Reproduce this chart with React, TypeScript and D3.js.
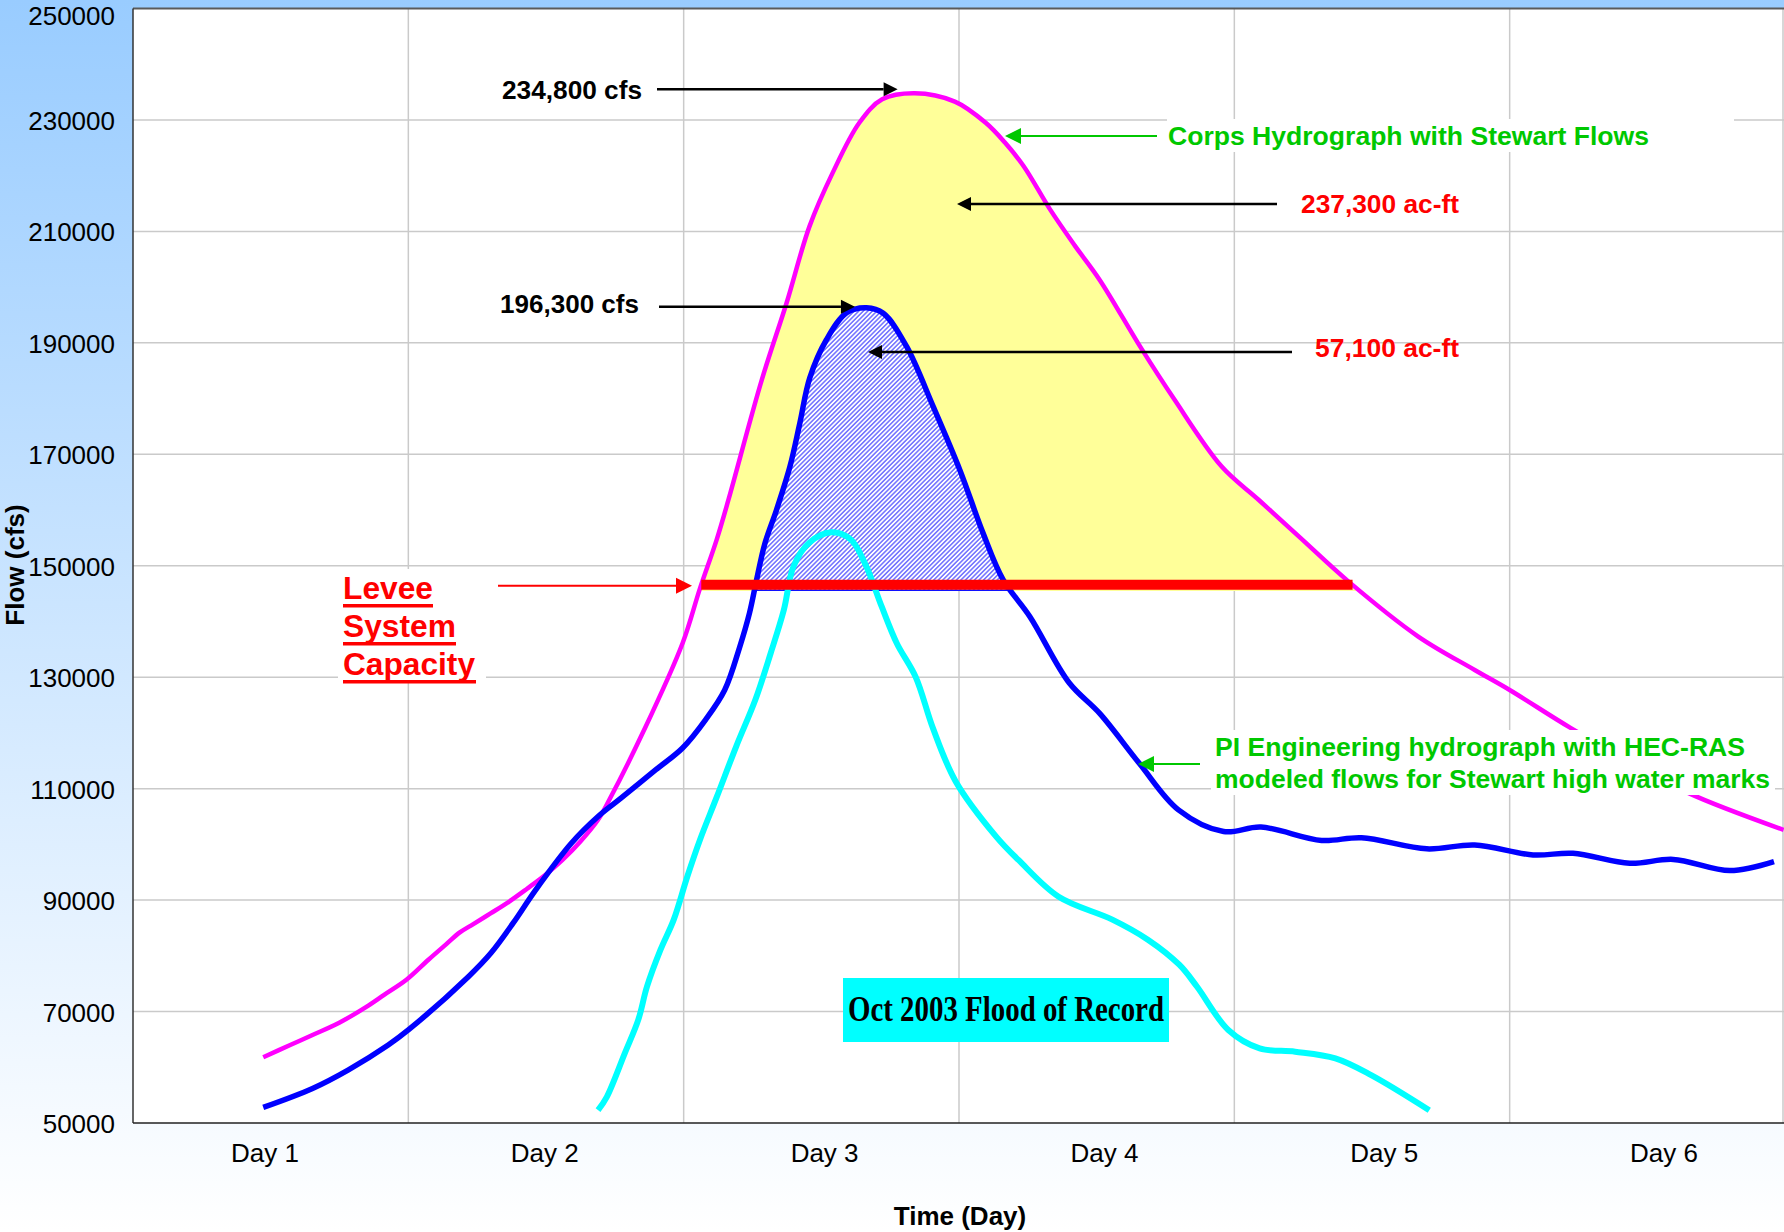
import React from 'react';
import * as d3 from 'd3';

// Axis categories and ticks
const dayLabels = ['Day 1', 'Day 2', 'Day 3', 'Day 4', 'Day 5', 'Day 6'];
const flowTicks = [50000, 70000, 90000, 110000, 130000, 150000, 170000, 190000, 210000, 230000, 250000];

// Corps hydrograph with Stewart flows (time in days from the start of Day 1, flow in cfs)
const corpsTime = [0.473, 0.571, 0.652, 0.749, 0.846, 0.912, 0.993, 1.073, 1.138, 1.187, 1.236, 1.3, 1.365, 1.43, 1.495, 1.56, 1.625, 1.689, 1.73, 1.857, 1.996, 2.059, 2.12, 2.163, 2.284, 2.374, 2.457, 2.541, 2.638, 2.721, 2.839, 2.985, 3.097, 3.166, 3.235, 3.33, 3.42, 3.511, 3.662, 3.78, 3.954, 4.089, 4.24, 4.414, 4.668, 4.873, 5.0, 5.221, 5.45, 5.65, 5.995];
const corpsFlow = [61800, 64000, 65800, 68000, 70800, 73000, 75700, 79300, 82100, 84200, 85700, 87650, 89700, 92000, 94400, 97200, 100500, 104400, 108000, 120600, 136100, 145900, 154700, 161900, 183400, 197200, 210900, 220500, 229500, 233700, 234800, 233300, 229500, 226000, 221700, 214000, 207500, 201300, 189000, 180000, 167800, 161800, 155000, 147200, 137300, 131300, 127700, 120900, 114500, 109200, 102600];

// PI Engineering hydrograph (HEC-RAS modeled flows)
const piTime = [0.473, 0.652, 0.781, 0.927, 1.0, 1.219, 1.3, 1.381, 1.462, 1.592, 1.689, 1.77, 1.899, 1.996, 2.08, 2.149, 2.204, 2.239, 2.265, 2.295, 2.337, 2.386, 2.422, 2.458, 2.519, 2.592, 2.664, 2.725, 2.809, 2.906, 3.003, 3.087, 3.16, 3.257, 3.4, 3.511, 3.654, 3.797, 3.961, 4.097, 4.317, 4.462, 4.699, 4.873, 5.085, 5.23, 5.436, 5.594, 5.8, 5.96];
const piFlow = [52800, 56200, 59500, 64000, 66700, 76300, 80500, 85900, 91800, 100200, 105000, 108200, 113400, 117300, 122400, 127700, 135500, 141500, 147500, 154000, 160000, 167800, 175600, 183700, 190600, 195400, 196300, 195300, 189400, 178600, 167200, 155900, 147500, 140900, 129000, 123500, 114600, 106200, 102300, 103100, 100700, 101200, 99200, 99900, 98100, 98400, 96600, 97300, 95300, 96900];

// Oct 2003 flood of record
const recordTime = [1.689, 1.721, 1.786, 1.835, 1.867, 1.916, 1.964, 2.013, 2.059, 2.121, 2.191, 2.26, 2.316, 2.364, 2.399, 2.455, 2.538, 2.607, 2.663, 2.719, 2.774, 2.843, 2.905, 2.988, 3.135, 3.216, 3.362, 3.557, 3.686, 3.8, 3.864, 3.978, 4.092, 4.221, 4.367, 4.497, 4.708];
const recordFlow = [52300, 54700, 62500, 68500, 74500, 81100, 86500, 94200, 100800, 108600, 117600, 125900, 134300, 142100, 149900, 154100, 156000, 154700, 149900, 142700, 136100, 130000, 120900, 111300, 101400, 97200, 90600, 86500, 82900, 78400, 74500, 66700, 63400, 62800, 61600, 58600, 52300];

const leveeCapacity = 146600;
const corpsPeak = 234800;
const piPeak = 196300;
const corpsVolume = '237,300 ac-ft';
const piVolume = '57,100 ac-ft';

const W = 1784;
const H = 1232;
const plotLeft = 133;
const plotTop = 8.5;
const plotBottom = 1123;
const plotRight = 1783;

const x = d3.scaleLinear().domain([0, 6]).range([plotLeft, 1785]);
const y = d3.scaleLinear().domain([50000, 250000]).range([plotBottom, plotTop]);
const labelX = d3.scalePoint<string>().domain(dayLabels).range([265, 1664]);

const zip = (t: number[], v: number[]) => t.map((d, i) => [d, v[i]] as [number, number]);
const corps = zip(corpsTime, corpsFlow);
const pi = zip(piTime, piFlow);
const record = zip(recordTime, recordFlow);

const curve = d3.curveCatmullRom.alpha(0.5);
const line = d3.line<[number, number]>().x(d => x(d[0])).y(d => y(d[1])).curve(curve);

// bottom edge of the shaded volumes sits just under the capacity bar, on a whole pixel
const fillBaseY = Math.round(y(leveeCapacity) + 6);
const area = d3
  .area<[number, number]>()
  .x(d => x(d[0]))
  .y0(fillBaseY)
  .y1(d => y(d[1]))
  .curve(curve);

// Times where a series crosses a given flow (linear between samples)
function crossings(pts: [number, number][], level: number): number[] {
  const out: number[] = [];
  for (let i = 1; i < pts.length; i++) {
    const [t0, v0] = pts[i - 1];
    const [t1, v1] = pts[i];
    if ((v0 - level) * (v1 - level) < 0) {
      out.push(t0 + ((level - v0) / (v1 - v0)) * (t1 - t0));
    }
  }
  return out;
}

const fmt = d3.format(',');
const corpsCross = crossings(corps, leveeCapacity);
const piBaseFlow = y.invert(fillBaseY);
const piCross = crossings(pi, piBaseFlow);
const corpsPeakTime = corpsTime[corpsFlow.indexOf(corpsPeak)];
const piPeakTime = piTime[piFlow.indexOf(piPeak)];

const sans = '"Liberation Sans", Arial, sans-serif';

function Arrow({ x1, x2, yy, color, width = 2.5, head = 14, half = 7 }: { x1: number; x2: number; yy: number; color: string; width?: number; head?: number; half?: number }) {
  const dir = x2 > x1 ? 1 : -1;
  const base = x2 - dir * head;
  return (
    <g>
      <line x1={x1} y1={yy} x2={base} y2={yy} stroke={color} strokeWidth={width} />
      <polygon points={`${x2},${yy} ${base},${yy - half} ${base},${yy + half}`} fill={color} />
    </g>
  );
}

function Label({ x0, y0, len, children, anchor = 'start' }: { x0: number; y0: number; len: number; children: string; anchor?: string }) {
  return (
    <text x={x0} y={y0} textAnchor={anchor} textLength={len} lengthAdjust="spacingAndGlyphs">
      {children}
    </text>
  );
}

export default function App() {
  const gridY = flowTicks.filter(v => v > 50000 && v < 250000);
  const gridX = [1, 2, 3, 4, 5];
  const green = '#00C800';
  const red = '#FF0000';
  const leveeY = y(leveeCapacity);

  return (
    <div style={{ position: 'absolute', left: 0, top: 0, width: W, height: H }}>
      <svg width={W} height={H} style={{ display: 'block' }}>
        <defs>
          <linearGradient id="bg" x1="0" y1="0" x2="0" y2="1">
            <stop offset="0" stopColor="#99CCFF" />
            <stop offset="1" stopColor="#FFFFFF" />
          </linearGradient>
          <pattern id="hatch" width="3.2" height="3.2" patternUnits="userSpaceOnUse" patternTransform="rotate(45)">
            <rect width="3.2" height="3.2" fill="#FFFFFF" />
            <line x1="1.6" y1="0" x2="1.6" y2="3.2" stroke="#3A3AFF" strokeWidth="1.1" />
          </pattern>
          <clipPath id="aboveLevee">
            <rect x={plotLeft} y={0} width={plotRight - plotLeft} height={fillBaseY} />
          </clipPath>
          <clipPath id="plot">
            <rect x={plotLeft} y={plotTop} width={W - plotLeft} height={plotBottom - plotTop} />
          </clipPath>
        </defs>

        <rect width={W} height={H} fill="url(#bg)" />
        <rect x={plotLeft} y={plotTop} width={W - plotLeft} height={plotBottom - plotTop} fill="#FFFFFF" />

        {/* gridlines */}
        {gridY.map(v => (
          <line key={v} x1={plotLeft} x2={W} y1={y(v)} y2={y(v)} stroke="#CACACA" strokeWidth={1.5} />
        ))}
        {gridX.map(t => (
          <line key={t} x1={x(t)} x2={x(t)} y1={plotTop} y2={plotBottom} stroke="#CACACA" strokeWidth={1.5} />
        ))}
        <line x1={plotRight} x2={plotRight} y1={plotTop} y2={plotBottom} stroke="#CACACA" strokeWidth={1.5} />

        {/* volume above levee capacity */}
        <g clipPath="url(#aboveLevee)">
          <path d={area(corps) || ''} fill="#FFFF99" />
          <path d={area(pi) || ''} fill="url(#hatch)" />
        </g>
        {piCross.length >= 2 && (
          <line x1={x(piCross[0])} x2={x(piCross[1])} y1={fillBaseY - 0.75} y2={fillBaseY - 0.75} stroke="#1010FF" strokeWidth={1.5} />
        )}

        {/* hydrographs */}
        <g clipPath="url(#plot)" fill="none" strokeLinejoin="round">
          <path d={line(corps) || ''} stroke="#FF00FF" strokeWidth={4.5} />
          <path d={line(pi) || ''} stroke="#0000FF" strokeWidth={5.5} />
          <path d={line(record) || ''} stroke="#00FFFF" strokeWidth={6} />
        </g>

        {/* levee system capacity */}
        {corpsCross.length >= 2 && (
          <line x1={x(corpsCross[0])} x2={x(corpsCross[1])} y1={leveeY} y2={leveeY} stroke={red} strokeWidth={10} />
        )}

        {/* axes */}
        <line x1={plotLeft} x2={W} y1={plotTop} y2={plotTop} stroke="#5A5A5A" strokeWidth={2} />
        <line x1={plotLeft} x2={plotLeft} y1={plotTop} y2={plotBottom} stroke="#333333" strokeWidth={1.5} />
        <line x1={plotLeft} x2={W} y1={plotBottom} y2={plotBottom} stroke="#222222" strokeWidth={1.5} />

        <g fontFamily={sans} fontSize={26} fill="#000">
          {flowTicks.map(v => (
            <text key={v} x={115} y={Math.max(y(v) + 10, 25)} textAnchor="end">
              {v}
            </text>
          ))}
          {dayLabels.map(d => (
            <text key={d} x={labelX(d)} y={1162} textAnchor="middle">
              {d}
            </text>
          ))}
          <text x={960} y={1225} textAnchor="middle" fontWeight="bold">
            Time (Day)
          </text>
          <text transform="translate(24,565) rotate(-90)" textAnchor="middle" fontWeight="bold">
            Flow (cfs)
          </text>
        </g>

        {/* annotations */}
        <g fontFamily={sans} fontSize={26} fontWeight="bold">
          <Label x0={502} y0={99} len={140}>{`${fmt(corpsPeak)} cfs`}</Label>
          <Arrow x1={657} x2={x(corpsPeakTime - 0.062)} yy={y(corpsPeak) - 4} color="#000" />
          <Label x0={500} y0={313} len={139}>{`${fmt(piPeak)} cfs`}</Label>
          <Arrow x1={659} x2={x(piPeakTime - 0.042)} yy={y(piPeak) - 1} color="#000" />

          <rect x={1167} y={119} width={567} height={33} fill="#FFFFFF" />
          <g fill={green}>
            <Label x0={1168} y0={145} len={481}>Corps Hydrograph with Stewart Flows</Label>
          </g>
          <Arrow x1={1157} x2={1005} yy={136} color={green} width={2} head={16} half={8} />

          <g fill={red}>
            <Label x0={1459} y0={213} len={158} anchor="end">{corpsVolume}</Label>
            <Label x0={1459} y0={357} len={144} anchor="end">{piVolume}</Label>
          </g>
          <Arrow x1={1277} x2={957} yy={204} color="#000" />
          <Arrow x1={1292} x2={868} yy={352} color="#000" />

          <rect x={338} y={569} width={148} height={112} fill="#FFFFFF" />
          <g fill={red} fontSize={32}>
            <Label x0={343} y0={599} len={90}>Levee</Label>
            <Label x0={343} y0={637} len={113}>System</Label>
            <Label x0={343} y0={675} len={132}>Capacity</Label>
          </g>
          <rect x={343} y={604} width={90} height={3.5} fill={red} />
          <rect x={343} y={642} width={113} height={3.5} fill={red} />
          <rect x={343} y={680} width={133} height={3.5} fill={red} />
          <Arrow x1={498} x2={692} yy={leveeY + 1} color={red} width={2} head={16} half={8} />

          <rect x={1211} y={730} width={564} height={65} fill="#FFFFFF" />
          <g fill={green}>
            <Label x0={1215} y0={756} len={530}>PI Engineering hydrograph with HEC-RAS</Label>
            <Label x0={1215} y0={788} len={555}>modeled flows for Stewart high water marks</Label>
          </g>
          <Arrow x1={1200} x2={1138} yy={764} color={green} width={2} head={16} half={8} />
        </g>

        <rect x={843} y={978} width={326} height={64} fill="#00FFFF" />
        <text
          x={848}
          y={1021}
          fontFamily='"Liberation Serif", "Times New Roman", serif'
          fontWeight="bold"
          fontSize={35}
          textLength={316}
          lengthAdjust="spacingAndGlyphs"
        >
          Oct 2003 Flood of Record
        </text>
      </svg>
    </div>
  );
}
